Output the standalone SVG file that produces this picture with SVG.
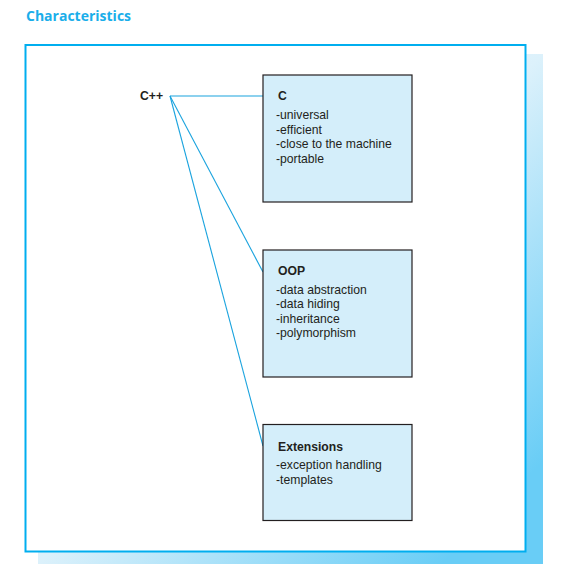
<svg xmlns="http://www.w3.org/2000/svg" width="561" height="582" viewBox="0 0 561 582">
<defs>
<linearGradient id="sh" x1="0" y1="0.2" x2="0.8" y2="1" gradientUnits="objectBoundingBox">
<stop offset="0" stop-color="#ffffff"/>
<stop offset="0.5" stop-color="#dcf1fb"/>
<stop offset="1" stop-color="#69cdf6"/>
</linearGradient>
<style>
.box{fill:#d4eefa;stroke:#231f20;stroke-width:1.2}
.t{font-family:"Liberation Sans",Arial,sans-serif;font-size:12.2px;fill:#231f20}
.b{font-weight:bold}
.con{stroke:#1aa3de;stroke-width:1.1;fill:none}
</style>
</defs>
<path d="M38 54 H543 V564 H38 Z" fill="url(#sh)"/>
<rect x="25.5" y="45" width="500" height="506.5" fill="#ffffff" stroke="#00aeef" stroke-width="2"/>
<text x="26" y="21" font-family="'Open Sans',sans-serif" font-weight="bold" font-size="14" fill="#1aaeea">Characteristics</text>
<g id="connectors">
<line class="con" x1="170" y1="96" x2="263" y2="96"/>
<line class="con" x1="170" y1="96" x2="263" y2="272"/>
<line class="con" x1="170" y1="96" x2="263" y2="446"/>
</g>
<g id="cpp"><text class="t b" x="140" y="100">C++</text></g>
<g id="c">
<rect class="box" x="263" y="75" width="149" height="127"/>
<text class="t b" x="278" y="100">C</text>
<text class="t" x="276" y="119">-universal</text>
<text class="t" x="276" y="133.5">-efficient</text>
<text class="t" x="276" y="148">-close to the machine</text>
<text class="t" x="276" y="162.5">-portable</text>
</g>
<g id="oop">
<rect class="box" x="263" y="250" width="149" height="127"/>
<text class="t b" x="278" y="275">OOP</text>
<text class="t" x="276" y="293.5">-data abstraction</text>
<text class="t" x="276" y="308">-data hiding</text>
<text class="t" x="276" y="322.5">-inheritance</text>
<text class="t" x="276" y="337">-polymorphism</text>
</g>
<g id="ext">
<rect class="box" x="263" y="424.5" width="149" height="96"/>
<text class="t b" x="278" y="451">Extensions</text>
<text class="t" x="276" y="469">-exception handling</text>
<text class="t" x="276" y="483.5">-templates</text>
</g>
</svg>
